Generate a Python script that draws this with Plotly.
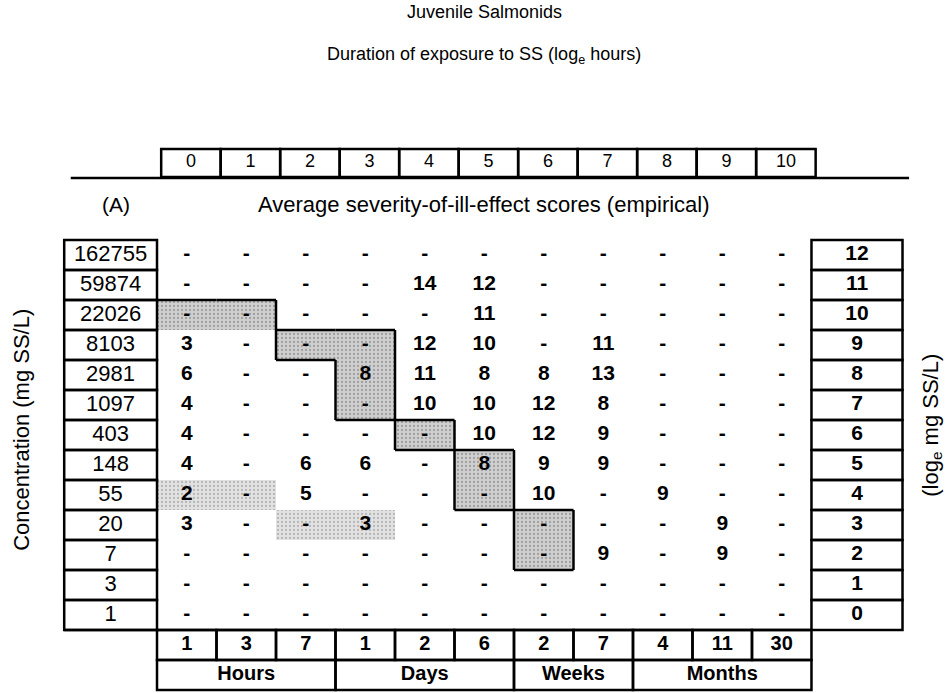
import plotly.graph_objects as go

# log_e hours (columns) and log_e concentration (rows)
log_hours = list(range(11))
log_conc = list(range(12, -1, -1))
conc_labels = ["162755", "59874", "22026", "8103", "2981", "1097", "403",
               "148", "55", "20", "7", "3", "1"]

# average severity scores, rows from log_conc 12 down to 0 ("-" = no data)
scores = [
    ["-", "-", "-", "-", "-", "-", "-", "-", "-", "-", "-"],
    ["-", "-", "-", "-", "14", "12", "-", "-", "-", "-", "-"],
    ["-", "-", "-", "-", "-", "11", "-", "-", "-", "-", "-"],
    ["3", "-", "-", "-", "12", "10", "-", "11", "-", "-", "-"],
    ["6", "-", "-", "8", "11", "8", "8", "13", "-", "-", "-"],
    ["4", "-", "-", "-", "10", "10", "12", "8", "-", "-", "-"],
    ["4", "-", "-", "-", "-", "10", "12", "9", "-", "-", "-"],
    ["4", "-", "6", "6", "-", "8", "9", "9", "-", "-", "-"],
    ["2", "-", "5", "-", "-", "-", "10", "-", "9", "-", "-"],
    ["3", "-", "-", "3", "-", "-", "-", "-", "-", "9", "-"],
    ["-", "-", "-", "-", "-", "-", "-", "9", "-", "9", "-"],
    ["-", "-", "-", "-", "-", "-", "-", "-", "-", "-", "-"],
    ["-", "-", "-", "-", "-", "-", "-", "-", "-", "-", "-"],
]

# shaded cells as (log_conc, log_hours)
ridge_cells = [(10, 0), (10, 1), (9, 2), (9, 3), (8, 3), (7, 3), (6, 4),
               (5, 5), (4, 5), (3, 6), (2, 6)]
open_bottom = [(10, 0), (10, 1)]
light_cells = [(4, 0), (4, 1), (3, 2), (3, 3)]

time_values = ["1", "3", "7", "1", "2", "6", "2", "7", "4", "11", "30"]
time_units = [("Hours", 0, 2), ("Days", 3, 5), ("Weeks", 6, 7), ("Months", 8, 10)]

FONT = "Liberation Sans, Arial, sans-serif"
LW = 2.5

fig = go.Figure()

# shaded cells (stippled)
for cells, bg, fg in [(light_cells, "#e2e2e2", "#8a8a8a"), (ridge_cells, "#cfcfcf", "#6e6e6e")]:
    fig.add_trace(go.Bar(
        x=[c for r, c in cells], y=[1] * len(cells), base=[r - 0.5 for r, c in cells],
        width=1, marker=dict(color=bg, line_width=0,
                             pattern=dict(shape=".", fgcolor=fg, size=4, solidity=0.25)),
        hoverinfo="skip", showlegend=False
    ))

# outline of the ridge: edges between ridge cells and other cells
ridge = set(ridge_cells)
edge = dict(type="line", line=dict(color="black", width=LW))
for r, c in ridge_cells:
    if (r + 1, c) not in ridge:
        fig.add_shape(x0=c - 0.5, x1=c + 0.5, y0=r + 0.5, y1=r + 0.5, **edge)
    if (r - 1, c) not in ridge and (r, c) not in open_bottom:
        fig.add_shape(x0=c - 0.5, x1=c + 0.5, y0=r - 0.5, y1=r - 0.5, **edge)
    if (r, c - 1) not in ridge and c > 0:
        fig.add_shape(x0=c - 0.5, x1=c - 0.5, y0=r - 0.5, y1=r + 0.5, **edge)
    if (r, c + 1) not in ridge:
        fig.add_shape(x0=c + 0.5, x1=c + 0.5, y0=r - 0.5, y1=r + 0.5, **edge)

# score text
xs, ys, ts = [], [], []
for i, r in enumerate(log_conc):
    for c in log_hours:
        xs.append(c)
        ys.append(r)
        ts.append(scores[i][c])
fig.add_trace(go.Scatter(
    x=xs, y=ys, text=ts, mode="text", textposition="middle center",
    textfont=dict(family=FONT, size=21, color="black", weight="bold"),
    hoverinfo="skip", showlegend=False
))

# left / right label columns
left_x0, left_x1 = -2.06, -0.5
right_x0, right_x1 = 10.5, 12.03
for r in log_conc:
    fig.add_shape(type="rect", x0=left_x0, x1=left_x1, y0=r - 0.5, y1=r + 0.5,
                  line=dict(color="black", width=LW))
    fig.add_shape(type="rect", x0=right_x0, x1=right_x1, y0=r - 0.5, y1=r + 0.5,
                  line=dict(color="black", width=LW))
fig.add_trace(go.Scatter(
    x=[(left_x0 + left_x1) / 2] * len(log_conc), y=log_conc, text=conc_labels,
    mode="text", textfont=dict(family=FONT, size=22, color="black"),
    hoverinfo="skip", showlegend=False
))
fig.add_trace(go.Scatter(
    x=[(right_x0 + right_x1) / 2] * len(log_conc), y=log_conc,
    text=[str(v) for v in log_conc], mode="text",
    textfont=dict(family=FONT, size=21, color="black", weight="bold"),
    hoverinfo="skip", showlegend=False
))

# bottom line under the grid
fig.add_shape(type="line", x0=left_x0, x1=right_x0, y0=-0.5, y1=-0.5,
              line=dict(color="black", width=LW))

# bottom time rows
for c in log_hours:
    fig.add_shape(type="rect", x0=c - 0.5, x1=c + 0.5, y0=-1.5, y1=-0.5,
                  line=dict(color="black", width=LW))
fig.add_trace(go.Scatter(
    x=log_hours, y=[-1] * len(log_hours), text=time_values, mode="text",
    textfont=dict(family=FONT, size=20, color="black", weight="bold"),
    hoverinfo="skip", showlegend=False
))
for name, c0, c1 in time_units:
    fig.add_shape(type="rect", x0=c0 - 0.5, x1=c1 + 0.5, y0=-2.5, y1=-1.5,
                  line=dict(color="black", width=LW))
fig.add_trace(go.Scatter(
    x=[(c0 + c1) / 2 for n, c0, c1 in time_units], y=[-2] * len(time_units),
    text=[n for n, c0, c1 in time_units], mode="text",
    textfont=dict(family=FONT, size=20, color="black", weight="bold"),
    hoverinfo="skip", showlegend=False
))

# top header boxes (log_e hours)
hx = 0.07
for c in log_hours:
    fig.add_shape(type="rect", x0=c - 0.5 + hx, x1=c + 0.5 + hx, y0=14.6, y1=15.53,
                  line=dict(color="black", width=LW))
fig.add_trace(go.Scatter(
    x=[c + hx for c in log_hours], y=[15.07] * len(log_hours),
    text=[str(c) for c in log_hours], mode="text",
    textfont=dict(family=FONT, size=18, color="black"),
    hoverinfo="skip", showlegend=False
))
fig.add_shape(type="line", x0=-1.95, x1=12.14, y0=14.57, y1=14.57,
              line=dict(color="black", width=LW))

ann = dict(showarrow=False, xref="x", yref="y")
fig.add_annotation(x=5, y=20.1, text="Juvenile Salmonids",
                   font=dict(family=FONT, size=18, color="black"), **ann)
fig.add_annotation(x=5, y=18.65, text="Duration of exposure to SS (log<sub>e</sub> hours)",
                   font=dict(family=FONT, size=18, color="black"), **ann)
fig.add_annotation(x=-1.19, y=13.67, text="(A)",
                   font=dict(family=FONT, size=21, color="black"), **ann)
fig.add_annotation(x=5, y=13.67, text="Average severity-of-ill-effect scores (empirical)",
                   font=dict(family=FONT, size=22, color="black"), **ann)
fig.add_annotation(x=-2.77, y=6.17, text="Concentration (mg SS/L)", textangle=-90,
                   font=dict(family=FONT, size=22, color="black"), **ann)
fig.add_annotation(x=12.52, y=6.33, text="(log<sub>e</sub> mg SS/L)", textangle=-90,
                   font=dict(family=FONT, size=22, color="black"), **ann)

# ranges chosen so one column = 59.5 px and one row = 30 px
fig.update_xaxes(range=[-3.139, 12.845], visible=False, fixedrange=True)
fig.update_yaxes(range=[-2.6, 20.5], visible=False, fixedrange=True)
fig.update_layout(
    width=951, height=693,
    margin=dict(l=0, r=0, t=0, b=0),
    plot_bgcolor="white", paper_bgcolor="white",
    barmode="overlay", bargap=0,
    showlegend=False
)

fig.write_html("out.html", config={"displayModeBar": False},
               post_script="document.body.style.margin = '0';")
